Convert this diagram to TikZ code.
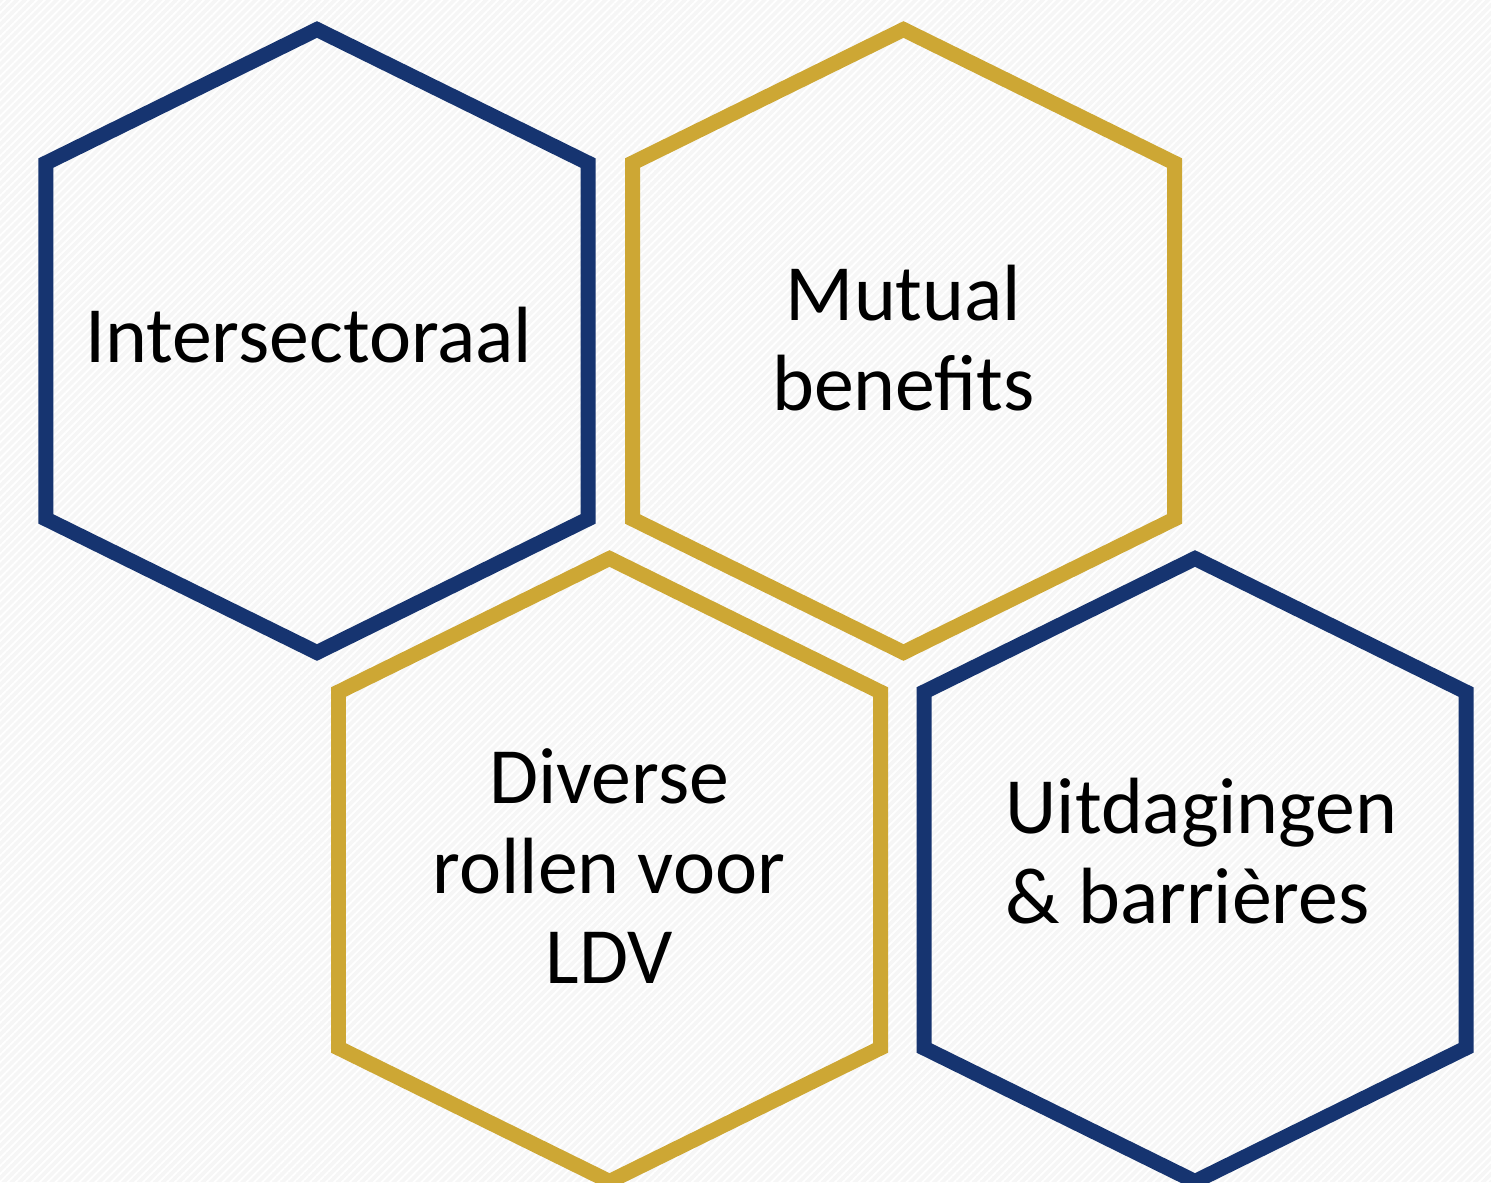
\documentclass[tikz,border=0pt]{standalone}
\usepackage{fontspec}
\setmainfont{Carlito}
\usetikzlibrary{patterns.meta}

\definecolor{navyblue}{RGB}{22,52,112}
\definecolor{goldish}{RGB}{205,167,52}
\definecolor{bggray}{RGB}{246,246,246}

\tikzset{
	navyhex/.style={draw=navyblue, line width=0.15cm, line join=miter},
	goldhex/.style={draw=goldish, line width=0.15cm, line join=miter},
	label/.style={inner sep=0pt, font=\fontsize{22.7}{25.6}\selectfont, text=black}
}

\begin{document}
\begin{tikzpicture}
	
	% background
	\fill[bggray] (0,0) rectangle (14.91,11.82);
	\fill[pattern={Lines[angle=45, distance=1.6pt, line width=0.5pt]}, pattern color=white] (0,0) rectangle (14.91,11.82);
	\useasboundingbox (0,0) rectangle (14.91,11.82);
	
	% hexagon centres
	\coordinate (c1) at (3.17, 8.41);
	\coordinate (c2) at (9.035, 8.41);
	\coordinate (c3) at (6.095, 3.12);
	\coordinate (c4) at (11.95, 3.12);
	
	\draw[navyhex] ([yshift=3.115cm]c1) -- ++(2.71,-1.335) -- ++(0,-3.56) -- ++(-2.71,-1.335) -- ++(-2.71,1.335) -- ++(0,3.56) -- cycle;
	\draw[goldhex] ([yshift=3.115cm]c2) -- ++(2.71,-1.335) -- ++(0,-3.56) -- ++(-2.71,-1.335) -- ++(-2.71,1.335) -- ++(0,3.56) -- cycle;
	\draw[goldhex] ([yshift=3.115cm]c3) -- ++(2.71,-1.335) -- ++(0,-3.56) -- ++(-2.71,-1.335) -- ++(-2.71,1.335) -- ++(0,3.56) -- cycle;
	\draw[navyhex] ([yshift=3.115cm]c4) -- ++(2.71,-1.335) -- ++(0,-3.56) -- ++(-2.71,-1.335) -- ++(-2.71,1.335) -- ++(0,3.56) -- cycle;
	
	% texts (base = last line)
	\node[label, anchor=base] (inter) at (3.085, 8.20) {Intersectoraal};
	\node[label, anchor=base, align=center] (mutual) at (9.035, 7.72) {Mutual\\benefits};
	\node[label, anchor=base, align=center] (diverse) at (6.09, 1.99) {Diverse\\rollen voor\\LDV};
	\node[label, anchor=base west, align=left] (uitdag) at (10.05, 2.59) {Uitdagingen\\\& barrières};
	
\end{tikzpicture}
\end{document}
